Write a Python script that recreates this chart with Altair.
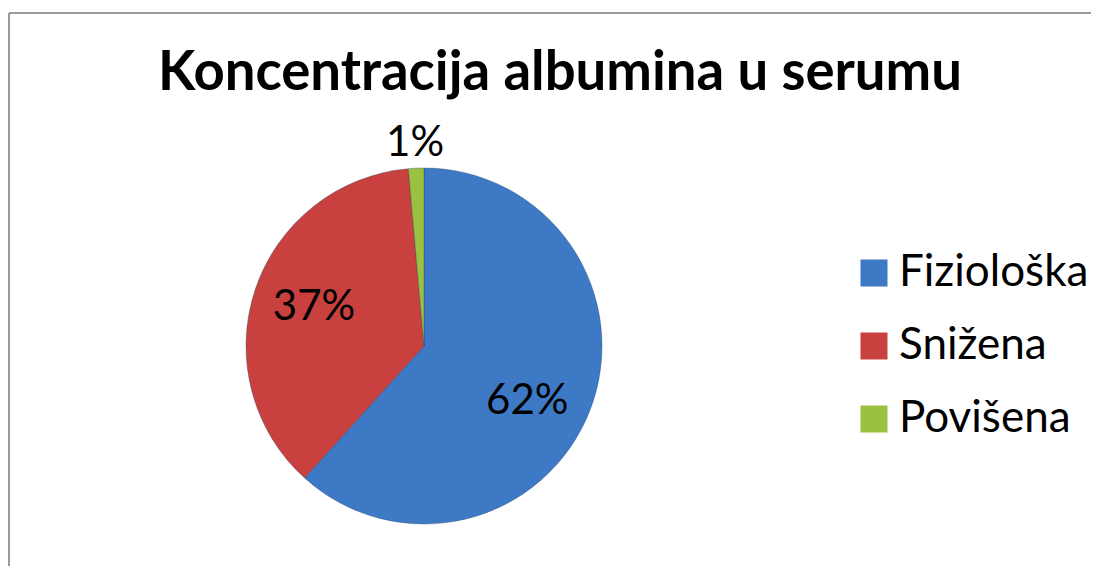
import altair as alt
import pandas as pd

title_text = "Koncentracija albumina u serumu"
categories = ["Fiziološka", "Snižena", "Povišena"]
values = [61.7, 36.9, 1.4]
labels = ["62%", "37%", "1%"]
order = [0, 1, 2]
colors = ["#3D79C4", "#C8413E", "#9BC13F"]

df = pd.DataFrame({"cat": categories, "val": values, "label": labels, "ord": order})
one_df = pd.DataFrame({"title": [title_text]})

FONT = "Lato"
W, H = 1083, 553

base = alt.Chart(df).encode(
    theta=alt.Theta("val:Q", stack=True),
    order=alt.Order("ord:Q"),
    x=alt.value(416),
    y=alt.value(333),
)

arc = base.mark_arc(radius=178, stroke="#1f3f66", strokeWidth=0.6, strokeOpacity=0.6).encode(
    color=alt.Color(
        "cat:N",
        scale=alt.Scale(domain=categories, range=colors),
        sort=categories,
        legend=alt.Legend(
            orient="none",
            legendX=844,
            legendY=238,
            title=None,
            symbolType="square",
            symbolSize=729,
            symbolStrokeWidth=0,
            labelFont=FONT,
            labelFontSize=44,
            labelColor="black",
            labelOffset=3,
            rowPadding=29,
            padding=0,
            labelLimit=400,
        ),
    )
)


def label_layer(idx, radius, dx=0, dy=0):
    cat = categories[idx]
    return base.transform_calculate(
        t=f"datum.cat == '{cat}' ? datum.label : ''"
    ).mark_text(
        radius=radius, dx=dx, dy=dy, font=FONT, fontSize=42, color="black",
        align="center", baseline="middle",
    ).encode(text="t:N")


lab_fiz = label_layer(0, 116, dx=-5, dy=13)
lab_sni = label_layer(1, 116, dx=0, dy=-2)
lab_pov = label_layer(2, 203)

top_rule = alt.Chart(one_df).mark_rule(color="#9a9a9a", strokeWidth=2).encode(
    x=alt.value(1), x2=alt.value(W + 10), y=alt.value(0)
)
left_rule = alt.Chart(one_df).mark_rule(color="#9a9a9a", strokeWidth=2).encode(
    x=alt.value(1), y=alt.value(0), y2=alt.value(H + 10)
)

title = alt.Chart(one_df).mark_text(
    font=FONT, fontSize=54.5, fontWeight="bold", color="black",
    align="center", baseline="alphabetic",
).encode(text="title:N", x=alt.value(552), y=alt.value(77))

chart = (
    alt.layer(top_rule, left_rule, arc, lab_fiz, lab_sni, lab_pov, title)
    .properties(
        width=W,
        height=H,
        padding={"left": 0, "top": 5, "right": 0, "bottom": 0},
        autosize=alt.AutoSizeParams(type="none"),
    )
    .configure_view(strokeWidth=0)
)

chart.save("out.html", embed_options={"renderer": "svg", "actions": False})
